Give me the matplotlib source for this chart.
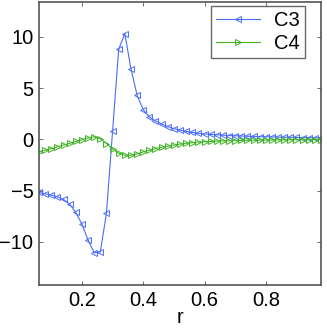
import numpy as np
import matplotlib
matplotlib.use("Agg")
import matplotlib.pyplot as plt

plt.rcParams['font.family'] = ['Liberation Sans', 'DejaVu Sans']

# radius values, 0.06 .. 0.98 in steps of 0.02
r = np.round(np.arange(0.06, 0.981, 0.02), 2)

c3 = [-5.17, -5.31, -5.43, -5.6, -5.86, -6.31, -7.12, -8.26, -9.82, -11.06,
      -10.97, -7.22, 0.8, 8.8, 10.3, 6.9, 4.3, 2.9, 2.2, 1.8,
      1.5, 1.25, 1.05, 0.9, 0.78, 0.68, 0.6, 0.54, 0.49, 0.45,
      0.41, 0.38, 0.35, 0.33, 0.31, 0.29, 0.27, 0.25, 0.24, 0.22,
      0.21, 0.2, 0.19, 0.18, 0.17, 0.16, 0.15]

c4 = [-1.2, -1.05, -0.9, -0.72, -0.55, -0.38, -0.2, -0.03, 0.15, 0.25,
      0.05, -0.4, -0.95, -1.35, -1.55, -1.55, -1.4, -1.22, -1.05, -0.9,
      -0.77, -0.65, -0.55, -0.46, -0.38, -0.32, -0.27, -0.23, -0.2, -0.17,
      -0.15, -0.13, -0.11, -0.1, -0.09, -0.08, -0.07, -0.06, -0.06, -0.05,
      -0.05, -0.04, -0.04, -0.04, -0.03, -0.03, -0.03]

fig = plt.figure(figsize=(3.27, 3.32), dpi=100)
ax = fig.add_axes([39 / 327, 1 - 285 / 332, 282 / 327, 283 / 332])

ax.plot(r, c3, '-', marker='<', color='#4a6cff', lw=0.8, ms=5,
        mfc='none', mew=0.7, label='C3')
ax.plot(r, c4, '-', marker='>', color='#3fb324', lw=0.8, ms=5,
        mfc='none', mew=0.7, label='C4')

ax.set_xlim(0.06, 0.98)
ax.set_ylim(-14.2, 13.4)
ax.set_xticks([0.2, 0.4, 0.6, 0.8])
ax.set_yticks([-10, -5, 0, 5, 10])
ax.set_xlabel('r', fontsize=14.5, labelpad=-1)
ax.tick_params(direction='in', length=3, width=0.6, color='#555555',
               labelsize=14.5, top=True, right=True, pad=4)
for s in ax.spines.values():
    s.set_color('#555555')
    s.set_linewidth(1.2)

leg = ax.legend(loc='upper right', bbox_to_anchor=(0.943, 0.986),
                fontsize=14.5, fancybox=False,
                handlelength=2.2, borderpad=0.25, labelspacing=0.2,
                handletextpad=0.7, borderaxespad=0)
leg.get_frame().set_edgecolor('#444444')
leg.get_frame().set_linewidth(1.0)

fig.savefig('out.png', dpi=100)
